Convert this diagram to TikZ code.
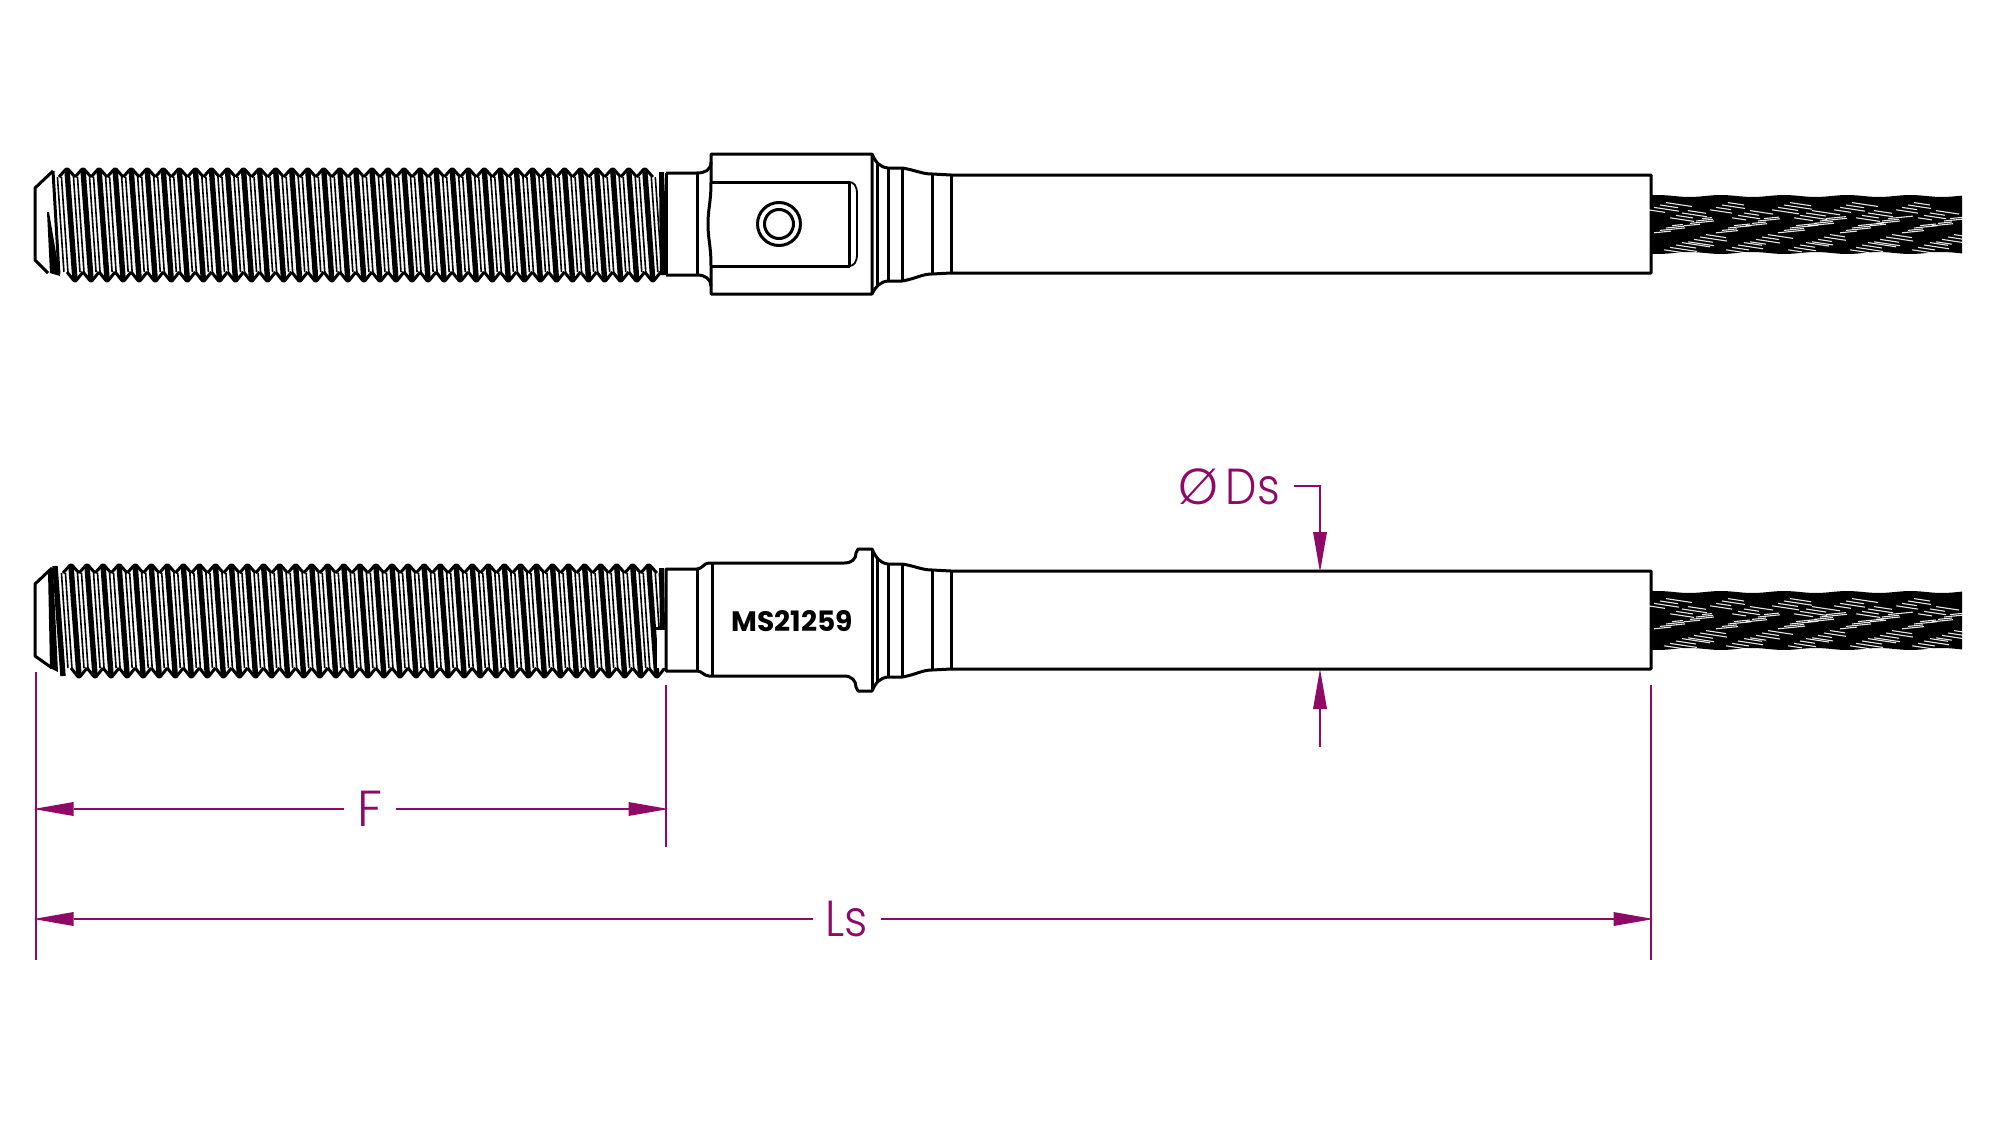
\documentclass[tikz,border=0pt]{standalone}
\usepackage{fontspec}
\setmainfont{Poppins}
\usetikzlibrary{arrows.meta}
\definecolor{dimpurple}{HTML}{8F0A66}
\newfontfamily\dimfont{Poppins Light}

% one threaded end, #1 = axis height, #2 = first crest on top
\newcommand{\threadend}[2]{
    \foreach \k in {-1,...,36} {
        \pgfmathsetmacro{\xc}{#2+16.05*\k}
        \ifnum\k>-1
            \draw[part, rounded corners=1mm] (\xc-8,#1-47) -- (\xc,#1-56) -- (\xc+8,#1-47);
            \draw[part, rounded corners=1mm] (\xc,#1+48) -- (\xc+8,#1+58) -- (\xc+16,#1+48);
            \draw[line width=2.7mm] (\xc,#1-54) -- (\xc+8,#1+56);
        \fi
        \draw[line width=0.8mm] (\xc+6.5,#1-47) -- (\xc+13,#1+48);
        \draw[line width=0.8mm] (\xc+10.5,#1-47) -- (\xc+17,#1+48);
    }
}
% one piece of wire rope, #1 = axis height
\newcommand{\wirerope}[1]{
    \fill[black] plot[domain=1651:1962, samples=60] (\x,{#1-28-sin(\x*5.7)})
        -- plot[domain=1962:1651, samples=60] (\x,{#1+29+sin(\x*5.7)}) -- cycle;
    \foreach \dy/\sl/\ph in {-19/3/4, -11/3/26, -3/-2/40, 4/-2/10, 13/3/44, 21/3/20} {
        \foreach \g in {0,...,4} {
            \foreach \i in {-1,...,2} {
                \pgfmathsetmacro{\len}{14+mod(7*\i+5*\g+abs(\dy),15)}
                \draw[white, line width=0.55mm, opacity=0.9] ({1656+\ph+62*\g-\i*6},{#1+\dy+\i*2.4}) -- ++(\len,\sl*\len/20);
            }
        }
    }
}

\begin{document}
\begin{tikzpicture}[
        x=0.5mm,
        y=-0.5mm,
        part/.style={line width=1.5mm, line join=round, draw=black},
        dimline/.style={line width=1.1mm, draw=dimpurple},
        dimarrow/.style={dimline, -{Triangle[length=20mm, width=7mm, line width=0pt]}},
        dimlabel/.style={text=dimpurple, font=\dimfont\fontsize{72}{72}\selectfont, inner sep=0pt}
    ]
    \useasboundingbox (0,0) rectangle (2000,1125);

    % Top view: thread
    \threadend{224}{67}
    \draw[part] (53,171) -- (35,188) -- (35,260) -- (48,273);
    \draw[part] (53,171) -- (59,274);
    \fill[black] (47,212) -- (49,212) -- (60,276) -- (50,273) -- cycle;
    \fill[black] (659,172) -- (664,172) -- (668,275) -- (660,275) -- cycle;

    % Top view: neck and block
    \draw[part] (666,173) -- (697,173) .. controls (705,173) and (711,170) .. (711,162);
    \draw[part] (666,275) -- (697,275) .. controls (705,275) and (711,279) .. (711,286);
    \draw[part] (666,173) -- (666,275);
    \draw[part] (697,173) -- (697,275);
    \draw[part] (711,154) -- (872,154) -- (872,294) -- (711,294) -- (711,266)
        .. controls (711,245) and (708,240) .. (708,224)
        .. controls (708,208) and (711,203) .. (711,182) -- cycle;
    \draw[part] (711,182) -- (849,182) -- (849,266) -- (711,266);
    \draw[part, line width=0.9mm] (849,182) .. controls (854,182) and (857,186) .. (857,194) -- (857,254)
        .. controls (857,262) and (854,266) .. (849,266);
    \draw[part] (779,224) circle[radius=21.5];
    \draw[part] (779,224) circle[radius=14.5];

    % Top view: swaged part
    \draw[part] (872,154) .. controls (876,163) and (880,167) .. (888,168) -- (902,168)
        .. controls (915,170) and (922,174) .. (932,174) -- (951,175) -- (1651,175) -- (1651,273) -- (951,273)
        -- (932,274) .. controls (922,274) and (915,279) .. (902,281) -- (888,281)
        .. controls (880,282) and (876,286) .. (872,294);
    \draw[part] (877,163) -- (877,286);
    \foreach \xv/\ya/\yb in {888/168/281, 902/168/281, 932/174/274, 951/175/273} {
        \draw[part] (\xv,\ya) -- (\xv,\yb);
    }
    \wirerope{224}

    % Side view: thread
    \threadend{620}{71}
    \draw[part] (52,568) -- (35,584) -- (35,656) -- (52,668);
    \draw[line width=2.7mm] (55,566) -- (63,676);
    \fill[black] (48,570) -- (53,568) -- (58,672) -- (50,668) -- cycle;
    \fill[black] (659,568) -- (664,568) -- (665,628) -- (660,628) -- cycle;
    \fill[white] (657,630) -- (665,630) -- (665,668) -- (657,668) -- cycle;
    \draw[part] (656,628) -- (666,628);

    % Side view: neck and collar
    \draw[part] (666,569) -- (697,569) .. controls (702,569) and (704,563) .. (709,563) -- (844,563)
        .. controls (852,563) and (856,559) .. (856,553) -- (858,549) -- (872,549)
        .. controls (876,558) and (880,563) .. (888,564) -- (902,564)
        .. controls (915,566) and (922,570) .. (932,570) -- (951,571) -- (1651,571) -- (1651,669) -- (951,669)
        -- (932,670) .. controls (922,670) and (915,675) .. (902,677) -- (888,677)
        .. controls (880,678) and (876,682) .. (872,691) -- (858,691) -- (856,687)
        .. controls (856,681) and (852,676) .. (844,676) -- (709,676)
        .. controls (704,676) and (702,671) .. (697,671) -- (666,671) -- cycle;
    \foreach \xv/\ya/\yb in {697/569/671, 712/563/676, 872/549/691, 877/558/682, 888/564/677, 902/564/677, 932/570/670, 951/571/669} {
        \draw[part] (\xv,\ya) -- (\xv,\yb);
    }
    \node[font=\bfseries\fontsize{40}{40}\selectfont, inner sep=0pt] (marking) at (792,621) {MS21259};
    \wirerope{620}

    % Dimensions
    \coordinate (Fa) at (33.5,809);
    \coordinate (Fb) at (668.5,809);
    \coordinate (Lsa) at (33.5,919);
    \coordinate (Lsb) at (1653.5,919);
    \coordinate (Dstip) at (1320,572);
    \coordinate (Dsend) at (1320,486);
    \coordinate (Dslow) at (1320,669);
    \coordinate (Dstail) at (1320,747);
    \node[dimlabel, minimum width=25.5mm] (labelF) at (370,809) {F};
    \node[dimlabel, minimum width=34mm] (labelLs) at (847,919) {\scalebox{0.9}[1]{Ls}};
    \node[dimlabel, anchor=east] (labelDs) at (1280,487) {\scalebox{0.88}[1]{Ds}};
    \node[dimlabel] (labelDia) at (1198,487) {Ø};

    \draw[dimline] (36,672) -- (36,960);
    \draw[dimline] (666,685) -- (666,847);
    \draw[dimline] (1651,685) -- (1651,960);
    \draw[dimarrow] (labelF) -- (Fa);
    \draw[dimarrow] (labelF) -- (Fb);
    \draw[dimarrow] (labelLs) -- (Lsa);
    \draw[dimarrow] (labelLs) -- (Lsb);
    \draw[dimarrow] (1294,486) -- (Dsend) -- (Dstip);
    \draw[dimarrow] (Dstail) -- (Dslow);
\end{tikzpicture}
\end{document}
